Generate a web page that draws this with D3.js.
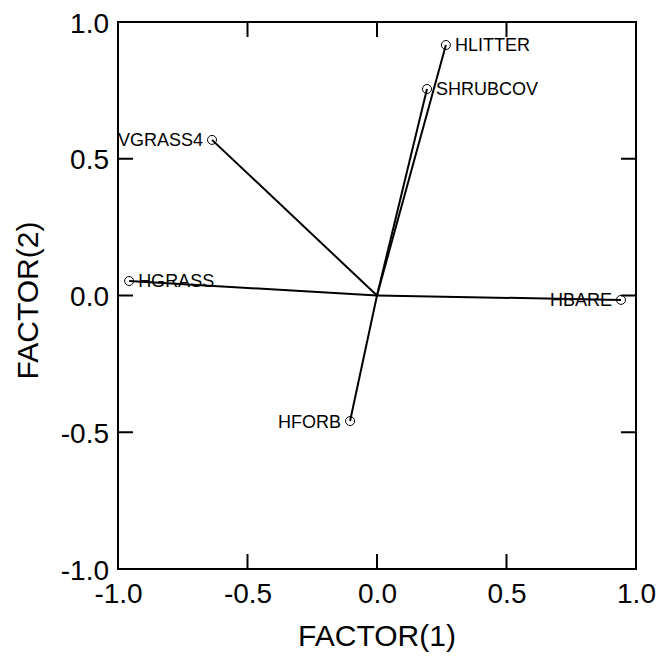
<!DOCTYPE html>
<html>
<head>
<meta charset="utf-8">
<script src="https://cdn.jsdelivr.net/npm/d3@7"></script>
<style>
  body { margin: 0; background: #fff; }
  svg { font-family: Arial, "Liberation Sans", sans-serif; }
</style>
</head>
<body>
<div class="chart"></div>
<script>
// Faktorladdningar
const variables = ["HLITTER", "SHRUBCOV", "VGRASS4", "HGRASS", "HBARE", "HFORB"];
const factor1 = [0.266, 0.193, -0.637, -0.957, 0.942, -0.104];
const factor2 = [0.916, 0.755, 0.569, 0.053, -0.016, -0.459];
const labelSide = ["right", "right", "left", "right", "left", "left"];
const tickValues = [-1.0, -0.5, 0.0, 0.5, 1.0];

const data = variables.map((v, i) => ({
  name: v, f1: factor1[i], f2: factor2[i], side: labelSide[i]
}));

const margin = {top: 22, right: 24, bottom: 89, left: 118};
const width = 636 - margin.left;
const height = 569 - margin.top;

const svg = d3.select("div.chart").append("svg")
  .attr("width", 660)
  .attr("height", 658)
  .append("g")
  .attr("transform", `translate(${margin.left},${margin.top})`);

const x = d3.scaleLinear().domain([-1, 1]).range([0, width]);
const y = d3.scaleLinear().domain([-1, 1]).range([height, 0]);

// vanligt bindestreck i stället för unicode-minus
const fmt = d => d3.format(".1f")(d).replace("\u2212", "-");
const innerTicks = tickValues.filter(t => t > -1 && t < 1);

// Axlar med inåtvända ticks på alla fyra sidor
const bottom = svg.append("g")
  .attr("transform", `translate(0,${height})`)
  .call(d3.axisBottom(x).tickValues(tickValues).tickSize(0).tickPadding(14).tickFormat(fmt));
const left = svg.append("g")
  .call(d3.axisLeft(y).tickValues(tickValues).tickSize(0).tickPadding(9).tickFormat(fmt));

[bottom, left].forEach(g => {
  g.select(".domain").remove();
  g.selectAll("text").style("font-size", "28px").attr("fill", "#000");
});
left.selectAll("text").attr("dy", "0.36em");

svg.append("rect")
  .attr("width", width)
  .attr("height", height)
  .attr("fill", "none")
  .attr("stroke", "#000")
  .attr("stroke-width", 2);

const tickLen = 15;
innerTicks.forEach(t => {
  svg.append("line").attr("x1", x(t)).attr("x2", x(t)).attr("y1", height).attr("y2", height - tickLen);
  svg.append("line").attr("x1", x(t)).attr("x2", x(t)).attr("y1", 0).attr("y2", tickLen);
  svg.append("line").attr("y1", y(t)).attr("y2", y(t)).attr("x1", 0).attr("x2", tickLen);
  svg.append("line").attr("y1", y(t)).attr("y2", y(t)).attr("x1", width).attr("x2", width - tickLen);
});
svg.selectAll("line").attr("stroke", "#000").attr("stroke-width", 2);

// Vektorer från origo
svg.selectAll("line.vec")
  .data(data)
  .enter()
  .append("line")
  .attr("class", "vec")
  .attr("x1", x(0))
  .attr("y1", y(0))
  .attr("x2", d => x(d.f1))
  .attr("y2", d => y(d.f2))
  .attr("stroke", "#000")
  .attr("stroke-width", 2);

svg.selectAll("circle")
  .data(data)
  .enter()
  .append("circle")
  .attr("cx", d => x(d.f1))
  .attr("cy", d => y(d.f2))
  .attr("r", 4.5)
  .attr("fill", "none")
  .attr("stroke", "#000")
  .attr("stroke-width", 1);

svg.selectAll("text.lbl")
  .data(data)
  .enter()
  .append("text")
  .attr("class", "lbl")
  .attr("x", d => x(d.f1) + (d.side === "right" ? 9 : -9))
  .attr("y", d => y(d.f2))
  .attr("dy", "0.36em")
  .attr("text-anchor", d => d.side === "right" ? "start" : "end")
  .style("font-size", "18px")
  .text(d => d.name);

// Axeltitlar
svg.append("text")
  .attr("text-anchor", "middle")
  .attr("x", width / 2)
  .attr("y", height + 77)
  .style("font-size", "30px")
  .text("FACTOR(1)");

svg.append("text")
  .attr("text-anchor", "middle")
  .attr("transform", "rotate(-90)")
  .attr("x", -height / 2 - 5)
  .attr("y", -margin.left + 38)
  .style("font-size", "30px")
  .text("FACTOR(2)");
</script>
</body>
</html>
